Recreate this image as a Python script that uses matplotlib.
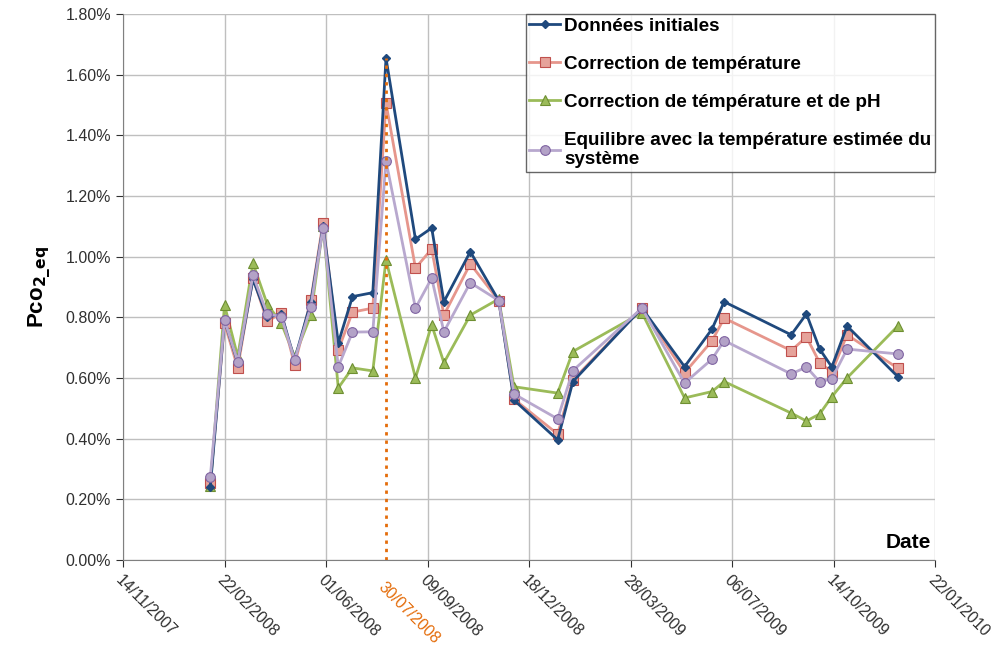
import pandas as pd
import matplotlib.pyplot as plt
import matplotlib.dates as mdates
from matplotlib.ticker import FuncFormatter

plt.rcParams['font.family'] = ['Liberation Sans', 'DejaVu Sans']

# Dates des mesures
dates = pd.to_datetime([
    '2008-02-08', '2008-02-22', '2008-03-06', '2008-03-21', '2008-04-04',
    '2008-04-18', '2008-05-01', '2008-05-17', '2008-05-29', '2008-06-13',
    '2008-06-27', '2008-07-17', '2008-07-30', '2008-08-28', '2008-09-13',
    '2008-09-25', '2008-10-21', '2008-11-18', '2008-12-03', '2009-01-15',
    '2009-01-30', '2009-04-08', '2009-05-20', '2009-06-16', '2009-06-28',
    '2009-09-02', '2009-09-17', '2009-09-30', '2009-10-12', '2009-10-27',
    '2009-12-16'])

# Pco2_eq (%)
donnees_initiales = [0.241, 0.790, 0.650, 0.925, 0.800, 0.810, 0.660, 0.850, 1.100, 0.715,
                     0.868, 0.881, 1.654, 1.057, 1.094, 0.851, 1.016, 0.855, 0.527, 0.396,
                     0.588, 0.830, 0.637, 0.761, 0.851, 0.742, 0.811, 0.695, 0.636, 0.771,
                     0.604]
correction_temp = [0.255, 0.780, 0.633, 0.930, 0.786, 0.814, 0.643, 0.857, 1.112, 0.692,
                   0.817, 0.830, 1.506, 0.962, 1.025, 0.807, 0.976, 0.855, 0.530, 0.415,
                   0.593, 0.830, 0.617, 0.722, 0.797, 0.690, 0.735, 0.650, 0.620, 0.742,
                   0.632]
correction_temp_ph = [0.245, 0.840, 0.670, 0.978, 0.843, 0.780, 0.670, 0.807, 1.100, 0.567,
                      0.633, 0.623, 0.989, 0.600, 0.775, 0.650, 0.807, 0.860, 0.571, 0.550,
                      0.687, 0.815, 0.534, 0.555, 0.588, 0.484, 0.458, 0.481, 0.538, 0.600,
                      0.771]
equilibre = [0.274, 0.791, 0.654, 0.939, 0.811, 0.802, 0.659, 0.835, 1.095, 0.637,
             0.751, 0.752, 1.315, 0.830, 0.929, 0.752, 0.914, 0.855, 0.547, 0.465,
             0.624, 0.830, 0.583, 0.662, 0.723, 0.613, 0.636, 0.587, 0.597, 0.695,
             0.679]

date_repere = pd.Timestamp('2008-07-30')
pic = 1.654

debut = pd.Timestamp('2007-11-14')
ticks_x = [debut + pd.Timedelta(days=100 * i) for i in range(9)]

fig = plt.figure(figsize=(10.08, 6.58), dpi=100)
ax = fig.add_axes([0.122, 0.149, 0.806, 0.830])

ax.plot(dates, donnees_initiales, color='#1F497D', lw=2, marker='D', ms=4,
        mfc='#1F497D', mec='#1F497D', label='Données initiales', zorder=5)
ax.plot(dates, correction_temp, color='#E6968C', lw=2, marker='s', ms=7,
        mfc='#E6A39B', mec='#C0504D', mew=0.8, label='Correction de température', zorder=4)
ax.plot(dates, correction_temp_ph, color='#9BBB59', lw=2, marker='^', ms=7,
        mfc='#9BBB59', mec='#6E8F32', mew=0.8, label='Correction de témpérature et de pH', zorder=3)
ax.plot(dates, equilibre, color='#B8A8CE', lw=2, marker='o', ms=7,
        mfc='#B3A2C7', mec='#8064A2', mew=0.8,
        label='Equilibre avec la température estimée du\nsystème', zorder=6)

ax.vlines(date_repere, 0, pic, colors='#E46C0A', linestyles=(0, (1.2, 1.8)), lw=2, zorder=7)

ax.set_xlim(ticks_x[0], ticks_x[-1])
ax.set_ylim(0, 1.8)
ax.set_xticks(ticks_x)
ax.xaxis.set_major_formatter(mdates.DateFormatter('%d/%m/%Y'))
ax.set_yticks([i * 0.2 for i in range(10)])
ax.yaxis.set_major_formatter(FuncFormatter(lambda v, p: f'{v:.2f}%'))

for lab in ax.get_xticklabels():
    lab.set_rotation(-45)
    lab.set_ha('left')
    lab.set_va('top')
    lab.set_rotation_mode('anchor')
ax.tick_params(axis='both', labelsize=11.5, colors='#303030', length=5)
ax.tick_params(axis='x', pad=4)

ax.text(date_repere, -0.035, date_repere.strftime('%d/%m/%Y'), transform=ax.get_xaxis_transform(),
        rotation=-45, ha='left', va='top', rotation_mode='anchor', color='#E46C0A', fontsize=11.5)

ax.grid(True, color='#BFBFBF', lw=1)
ax.set_axisbelow(True)
for s in ['top', 'right']:
    ax.spines[s].set_visible(False)
for s in ['left', 'bottom']:
    ax.spines[s].set_color('#808080')

ax.text(0.995, 0.015, 'Date', transform=ax.transAxes, ha='right', va='bottom',
        fontsize=15, fontweight='bold')
ax.set_ylabel('Pco$_{\\mathbf{2\\_eq}}$', fontsize=16, fontweight='bold', labelpad=8)

leg = ax.legend(loc='upper right', prop={'weight': 'bold', 'size': 13.6},
                frameon=True, fancybox=False, borderaxespad=0.0, handlelength=1.6,
                handletextpad=0.25, labelspacing=1.1, borderpad=0.2)
leg.get_frame().set_edgecolor('#404040')
leg.get_frame().set_linewidth(1)

fig.savefig('out.png', dpi=100)
